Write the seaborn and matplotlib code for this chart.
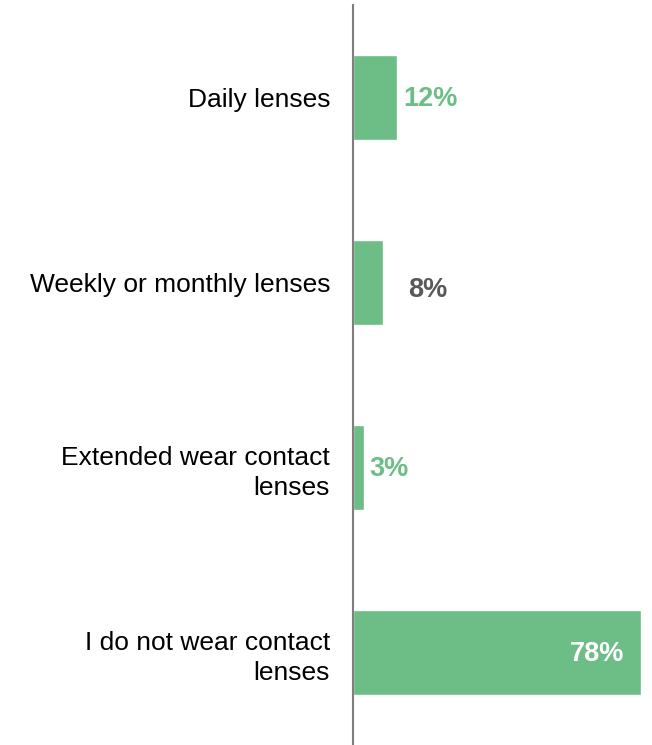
import matplotlib
matplotlib.use("Agg")
import matplotlib.pyplot as plt
import seaborn as sns
import pandas as pd

categories = ["Daily lenses", "Weekly or monthly lenses",
              "Extended wear contact\nlenses", "I do not wear contact\nlenses"]
values = [12, 8, 3, 78]
value_labels = ["12%", "8%", "3%", "78%"]

bar_color = "#6dbd87"
label_colors = [bar_color, "#595959", bar_color, "white"]
label_offsets = [1.5, 7.0, 1.5, -4.5]  # in data units; negative = inside bar

sns.set_theme(style="white")
plt.rcParams["font.family"] = ["Liberation Sans", "DejaVu Sans"]

df = pd.DataFrame({"category": categories, "value": values})

fig = plt.figure(figsize=(6.52, 7.45), dpi=100)
ax = fig.add_axes([353 / 652, 0, (641 - 353) / 652, 740 / 745])

sns.barplot(data=df, x="value", y="category", orient="h", color=bar_color,
            saturation=1, width=0.455, ax=ax)

ax.set_xlim(0, 78)
ax.set_ylim(3.5, -0.5)
ax.set_xlabel("")
ax.set_ylabel("")
ax.set_xticks([])
for s in ["top", "right", "bottom"]:
    ax.spines[s].set_visible(False)
ax.spines["left"].set_color("#7f7f7f")
ax.spines["left"].set_linewidth(1.5)
ax.tick_params(axis="y", length=0, pad=16.5, labelsize=19, labelcolor="black")
for lbl in ax.get_yticklabels():
    lbl.set_linespacing(1.3)

for i, (v, txt, col, off) in enumerate(zip(values, value_labels, label_colors, label_offsets)):
    ha = "right" if off < 0 else "left"
    ax.text(v + off, i + (0.04 if i == 1 else 0.01), txt, ha=ha, va="center",
            color=col, fontsize=19.5, fontweight="bold")

fig.savefig("out.png", dpi=100)
